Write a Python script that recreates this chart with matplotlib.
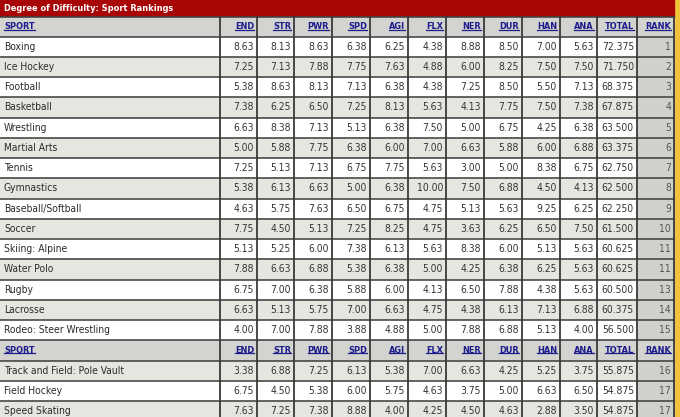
import matplotlib
matplotlib.use('Agg')
import matplotlib.pyplot as plt
import matplotlib.patches as mpatches
from matplotlib import font_manager
import numpy as np

title = 'Degree of Difficulty: Sport Rankings'
columns = ['SPORT', 'END', 'STR', 'PWR', 'SPD', 'AGI', 'FLX', 'NER', 'DUR', 'HAN', 'ANA', 'TOTAL', 'RANK']

sports = ['Boxing', 'Ice Hockey', 'Football', 'Basketball', 'Wrestling', 'Martial Arts', 'Tennis',
          'Gymnastics', 'Baseball/Softball', 'Soccer', 'Skiing: Alpine', 'Water Polo', 'Rugby',
          'Lacrosse', 'Rodeo: Steer Wrestling', 'Track and Field: Pole Vault', 'Field Hockey',
          'Speed Skating']
END = [8.63, 7.25, 5.38, 7.38, 6.63, 5.00, 7.25, 5.38, 4.63, 7.75, 5.13, 7.88, 6.75, 6.63, 4.00, 3.38, 6.75, 7.63]
STR = [8.13, 7.13, 8.63, 6.25, 8.38, 5.88, 5.13, 6.13, 5.75, 4.50, 5.25, 6.63, 7.00, 5.13, 7.00, 6.88, 4.50, 7.25]
PWR = [8.63, 7.88, 8.13, 6.50, 7.13, 7.75, 7.13, 6.63, 7.63, 5.13, 6.00, 6.88, 6.38, 5.75, 7.88, 7.25, 5.38, 7.38]
SPD = [6.38, 7.75, 7.13, 7.25, 5.13, 6.38, 6.75, 5.00, 6.50, 7.25, 7.38, 5.38, 5.88, 7.00, 3.88, 6.13, 6.00, 8.88]
AGI = [6.25, 7.63, 6.38, 8.13, 6.38, 6.00, 7.75, 6.38, 6.75, 8.25, 6.13, 6.38, 6.00, 6.63, 4.88, 5.38, 5.75, 4.00]
FLX = [4.38, 4.88, 4.38, 5.63, 7.50, 7.00, 5.63, 10.00, 4.75, 4.75, 5.63, 5.00, 4.13, 4.75, 5.00, 7.00, 4.63, 4.25]
NER = [8.88, 6.00, 7.25, 4.13, 5.00, 6.63, 3.00, 7.50, 5.13, 3.63, 8.38, 4.25, 6.50, 4.38, 7.88, 6.63, 3.75, 4.50]
DUR = [8.50, 8.25, 8.50, 7.75, 6.75, 5.88, 5.00, 6.88, 5.63, 6.25, 6.00, 6.38, 7.88, 6.13, 6.88, 4.25, 5.00, 4.63]
HAN = [7.00, 7.50, 5.50, 7.50, 4.25, 6.00, 8.38, 4.50, 9.25, 6.50, 5.13, 6.25, 4.38, 7.13, 5.13, 5.25, 6.63, 2.88]
ANA = [5.63, 7.50, 7.13, 7.38, 6.38, 6.88, 6.75, 4.13, 6.25, 7.50, 5.63, 5.63, 5.63, 6.88, 4.00, 3.75, 6.50, 3.50]
TOTAL = [72.375, 71.750, 68.375, 67.875, 63.500, 63.375, 62.750, 62.500, 62.250, 61.500, 60.625,
         60.625, 60.500, 60.375, 56.500, 55.875, 54.875, 54.875]
RANK = [1, 2, 3, 4, 5, 6, 7, 8, 9, 10, 11, 11, 13, 14, 15, 16, 17, 17]

# column edges in pixels
edges = [0, 220, 257, 294, 332, 370, 408, 446, 484, 522, 560, 597, 637, 674]
top = 36.5
rh = 20.25
header_after = 15   # header row repeated after 15 sports

# use a condensed face if one is installed, the reference text is narrow
cond = [f.name for f in font_manager.fontManager.ttflist
        if f.stretch in ('condensed', 'semi-condensed', 575, 600, 625, 700, 750, 800, 850, 875)
        or 'Condensed' in f.fname]
fam = ['DejaVu Sans'] if any('DejaVu' in n for n in cond) else ['Open Sans']
stretch = 'condensed' if fam == ['DejaVu Sans'] else 'normal'
fs = 7.4 if fam == ['DejaVu Sans'] else 7.0
fsb = 6.6 if fam == ['DejaVu Sans'] else 6.6   # bold labels
plt.rcParams['font.family'] = fam + ['DejaVu Sans']
plt.rcParams['font.stretch'] = stretch

fig = plt.figure(figsize=(6.8, 4.17), dpi=100, facecolor='w')
ax = fig.add_axes([0, 0, 1, 1])
ax.set_xlim(0, 680)
ax.set_ylim(417, 0)
ax.axis('off')

# yellow frame on the right
ax.add_patch(mpatches.Rectangle((674, 0), 6, 417, color='#f2c23a', zorder=0))
# title bar
ax.add_patch(mpatches.Rectangle((0, 0), 674, 16.5, color='#a80606', zorder=1))
ax.text(4, 8, title, color='w', fontsize=fsb, fontweight='bold', va='center', ha='left', zorder=3)

hdr_texts = []

def header_row(y0):
    ax.add_patch(mpatches.Rectangle((0, y0), 674, rh, color='#d3d3d0', zorder=1))
    for j, c in enumerate(columns):
        if j == 0:
            t = ax.text(edges[0] + 4, y0 + rh / 2, c, ha='left', va='center', fontsize=fsb,
                        fontweight='bold', color='#1c1c8c', zorder=3)
        else:
            t = ax.text(edges[j + 1] - 3, y0 + rh / 2, c, ha='right', va='center', fontsize=fsb,
                        fontweight='bold', color='#1c1c8c', zorder=3)
        hdr_texts.append(t)

header_row(16.5)

vals = [END, STR, PWR, SPD, AGI, FLX, NER, DUR, HAN, ANA]
row = 0
for i, s in enumerate(sports):
    if i == header_after:
        header_row(top + row * rh)
        row += 1
    y0 = top + row * rh
    bg = '#ffffff' if i % 2 == 0 else '#e6e6e1'
    ax.add_patch(mpatches.Rectangle((0, y0), 637, rh, color=bg, zorder=1))
    ax.add_patch(mpatches.Rectangle((637, y0), 37, rh, color='#d0d0cd', zorder=1))
    yc = y0 + rh / 2
    ax.text(edges[0] + 4, yc, s, ha='left', va='center', fontsize=fs, color='#2a2a2a', zorder=3)
    for j, v in enumerate(vals):
        ax.text(edges[j + 2] - 3, yc, '%.2f' % v[i], ha='right', va='center', fontsize=fs,
                color='#333333', zorder=3)
    ax.text(edges[12] - 3, yc, '%.3f' % TOTAL[i], ha='right', va='center', fontsize=fs,
            color='#333333', zorder=3)
    ax.text(edges[13] - 3, yc, str(RANK[i]), ha='right', va='center', fontsize=fs,
            color='#555555', zorder=3)
    row += 1

# grid lines
nrows = row
for k in range(nrows + 1):
    y = top + k * rh
    ax.plot([0, 674], [y, y], color='#3a3a3a', lw=1.1, zorder=2)
ax.plot([0, 674], [16.5, 16.5], color='#3a3a3a', lw=1.1, zorder=2)
for x in edges[1:]:
    ax.plot([x, x], [16.5, 417], color='#3a3a3a', lw=1.3, zorder=2)

# underline the header labels
fig.canvas.draw()
inv = ax.transData.inverted()
for t in hdr_texts:
    bb = t.get_window_extent()
    (x0, yb), (x1, _) = inv.transform([[bb.x0, bb.y0], [bb.x1, bb.y1]])
    ax.plot([x0, x1], [yb - 1.5, yb - 1.5], color='#1c1c8c', lw=0.9, zorder=3)

fig.savefig('out.png', dpi=100, facecolor='w')
